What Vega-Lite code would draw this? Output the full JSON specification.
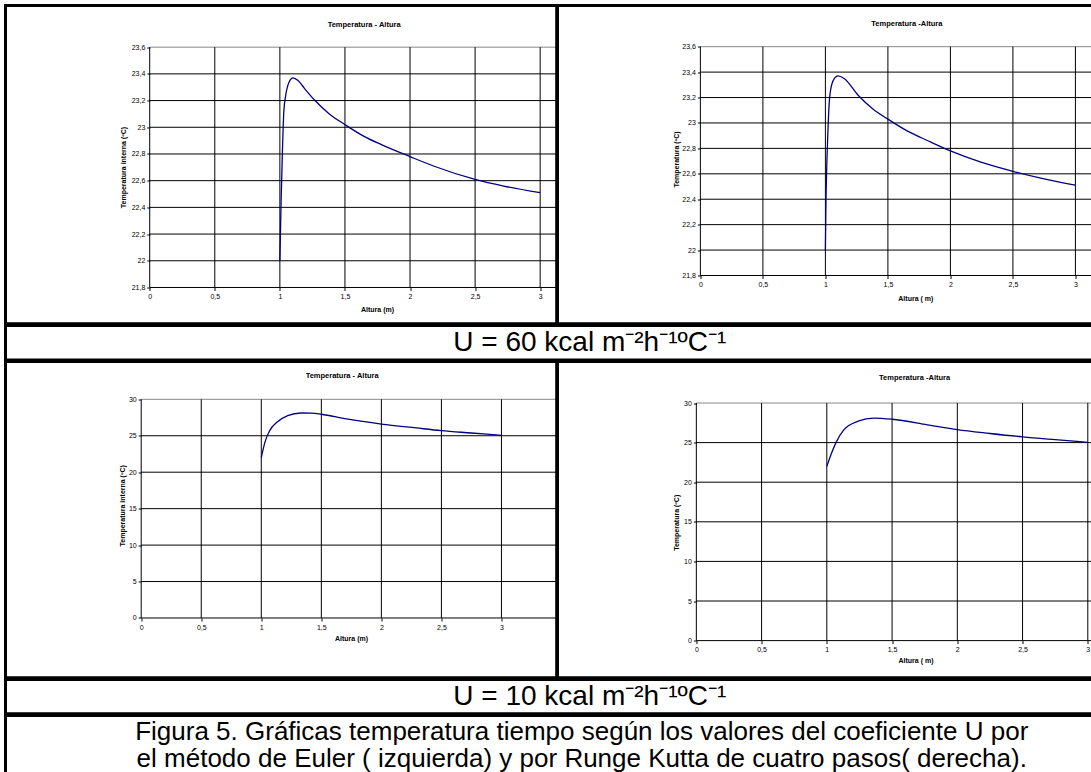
{
  "$schema": "https://vega.github.io/schema/vega-lite/v6.json",
  "padding": {"left": 3.5, "top": 3.5, "right": 0, "bottom": 0},
  "spacing": -6,
  "config": {
    "font": "Liberation Sans",
    "view": {"stroke": null},
    "title": {"font": "Liberation Sans", "fontSize": 7.5, "fontWeight": "bold", "color": "#000", "anchor": "middle", "frame": "group"},
    "axis": {"labelFont": "Liberation Sans", "titleFont": "Liberation Sans", "labelFontSize": 7, "titleFontSize": 7, "titleFontWeight": "bold", "labelColor": "#000", "titleColor": "#000", "grid": false, "domain": false, "ticks": true, "tickSize": 3, "tickColor": "#000", "labelPadding": 2, "labelFlush": false, "labelOverlap": false, "tickCount": 50}
  },
  "vconcat": [
    {
      "hconcat": [
        {
          "width": 551.2, "height": 318.3,
          "title": {"text": "Temperatura - Altura", "offset": -24.5, "dx": 83},
          "layer": [
            {"data": {"values": [{"v": 21.8}, {"v": 22.0}, {"v": 22.2}, {"v": 22.4}, {"v": 22.6}, {"v": 22.8}, {"v": 23.0}, {"v": 23.2}, {"v": 23.4}]},
             "mark": {"type": "rule", "color": "#000", "strokeWidth": 1, "clip": true},
             "encoding": {"y": {"field": "v", "type": "quantitative", "scale": {"domain": [21.528, 23.912], "nice": false, "zero": false}},
                          "x": {"datum": 0, "type": "quantitative", "scale": {"domain": [-1.108, 3.127], "nice": false, "zero": false}},
                          "x2": {"datum": 3.5}}},
            {"data": {"values": [{"v": 23.6}]},
             "mark": {"type": "rule", "color": "#888", "strokeWidth": 1, "clip": true},
             "encoding": {"y": {"field": "v", "type": "quantitative", "scale": {"domain": [21.528, 23.912], "nice": false, "zero": false}},
                          "x": {"datum": 0, "type": "quantitative", "scale": {"domain": [-1.108, 3.127], "nice": false, "zero": false}},
                          "x2": {"datum": 3.5}}},
            {"data": {"values": [{"v": 0}, {"v": 0.5}, {"v": 1}, {"v": 1.5}, {"v": 2}, {"v": 2.5}, {"v": 3}, {"v": 3.5}]},
             "mark": {"type": "rule", "color": "#000", "strokeWidth": 1, "clip": true},
             "encoding": {"x": {"field": "v", "type": "quantitative", "scale": {"domain": [-1.108, 3.127], "nice": false, "zero": false}},
                          "y": {"datum": 21.8, "type": "quantitative", "scale": {"domain": [21.528, 23.912], "nice": false, "zero": false}},
                          "y2": {"datum": 23.6}}},
            {"data": {"values": [
              {"h": 1.0, "t": 22.0}, {"h": 1.01, "t": 22.46}, {"h": 1.02, "t": 22.83}, {"h": 1.03, "t": 23.11}, {"h": 1.045, "t": 23.24},
              {"h": 1.06, "t": 23.31}, {"h": 1.08, "t": 23.355}, {"h": 1.1, "t": 23.37}, {"h": 1.14, "t": 23.35}, {"h": 1.19, "t": 23.29},
              {"h": 1.27, "t": 23.2}, {"h": 1.38, "t": 23.1}, {"h": 1.5, "t": 23.02}, {"h": 1.65, "t": 22.93}, {"h": 1.78, "t": 22.87},
              {"h": 2.0, "t": 22.78}, {"h": 2.18, "t": 22.71}, {"h": 2.5, "t": 22.61}, {"h": 2.72, "t": 22.56}, {"h": 3.0, "t": 22.51}]},
             "mark": {"type": "line", "color": "#000080", "strokeWidth": 1.3, "interpolate": "monotone", "clip": true},
             "encoding": {
               "x": {"field": "h", "type": "quantitative", "scale": {"domain": [-1.108, 3.127], "nice": false, "zero": false},
                     "axis": {"orient": "bottom", "offset": -36.3, "values": [0, 0.5, 1, 1.5, 2, 2.5, 3], "tickCount": 50, "labelOverlap": false, "labelExpr": "replace(format(datum.value, '~g'), '.', ',')", "title": "Altura (m)", "titleX": 371.5, "titleY": 17.5}},
               "y": {"field": "t", "type": "quantitative", "scale": {"domain": [21.528, 23.912], "nice": false, "zero": false},
                     "axis": {"orient": "left", "offset": -144.3, "values": [21.8, 22.0, 22.2, 22.4, 22.6, 22.8, 23.0, 23.2, 23.4, 23.6], "tickCount": 50, "labelOverlap": false, "labelExpr": "replace(format(datum.value, '~g'), '.', ',')", "title": "Temperatura interna (ºC)", "titleX": -23, "titleY": 161.5}}}},
            {"data": {"values": [{}]}, "mark": {"type": "rect", "filled": false, "color": "#000", "strokeWidth": 3}, "encoding": {}}
          ]
        },
        {
          "width": 625.3, "height": 318.3,
          "title": {"text": "Temperatura -Altura", "offset": -23, "dx": 36.7},
          "layer": [
            {"data": {"values": [{"v": 21.8}, {"v": 22.0}, {"v": 22.2}, {"v": 22.4}, {"v": 22.6}, {"v": 22.8}, {"v": 23.0}, {"v": 23.2}, {"v": 23.4}]},
             "mark": {"type": "rule", "color": "#000", "strokeWidth": 1, "clip": true},
             "encoding": {"y": {"field": "v", "type": "quantitative", "scale": {"domain": [21.42, 23.924], "nice": false, "zero": false}},
                          "x": {"datum": 0, "type": "quantitative", "scale": {"domain": [-1.143, 3.859], "nice": false, "zero": false}},
                          "x2": {"datum": 3.5}}},
            {"data": {"values": [{"v": 23.6}]},
             "mark": {"type": "rule", "color": "#888", "strokeWidth": 1, "clip": true},
             "encoding": {"y": {"field": "v", "type": "quantitative", "scale": {"domain": [21.42, 23.924], "nice": false, "zero": false}},
                          "x": {"datum": 0, "type": "quantitative", "scale": {"domain": [-1.143, 3.859], "nice": false, "zero": false}},
                          "x2": {"datum": 3.5}}},
            {"data": {"values": [{"v": 0}, {"v": 0.5}, {"v": 1}, {"v": 1.5}, {"v": 2}, {"v": 2.5}, {"v": 3}, {"v": 3.5}]},
             "mark": {"type": "rule", "color": "#000", "strokeWidth": 1, "clip": true},
             "encoding": {"x": {"field": "v", "type": "quantitative", "scale": {"domain": [-1.143, 3.859], "nice": false, "zero": false}},
                          "y": {"datum": 21.8, "type": "quantitative", "scale": {"domain": [21.42, 23.924], "nice": false, "zero": false}},
                          "y2": {"datum": 23.6}}},
            {"data": {"values": [
              {"h": 1.0, "t": 22.0}, {"h": 1.005, "t": 22.4}, {"h": 1.012, "t": 22.7}, {"h": 1.02, "t": 22.93}, {"h": 1.03, "t": 23.15},
              {"h": 1.05, "t": 23.3}, {"h": 1.075, "t": 23.355}, {"h": 1.1, "t": 23.37}, {"h": 1.15, "t": 23.35}, {"h": 1.26, "t": 23.22},
              {"h": 1.38, "t": 23.11}, {"h": 1.5, "t": 23.03}, {"h": 1.65, "t": 22.94}, {"h": 1.82, "t": 22.86}, {"h": 2.0, "t": 22.78},
              {"h": 2.25, "t": 22.69}, {"h": 2.5, "t": 22.62}, {"h": 2.75, "t": 22.56}, {"h": 3.0, "t": 22.51}]},
             "mark": {"type": "line", "color": "#000080", "strokeWidth": 1.3, "interpolate": "monotone", "clip": true},
             "encoding": {
               "x": {"field": "h", "type": "quantitative", "scale": {"domain": [-1.143, 3.859], "nice": false, "zero": false},
                     "axis": {"orient": "bottom", "offset": -48.3, "values": [0, 0.5, 1, 1.5, 2, 2.5, 3], "tickCount": 50, "labelOverlap": false, "labelExpr": "replace(format(datum.value, '~g'), '.', ',')", "title": "Altura ( m)", "titleX": 357.8, "titleY": 19}},
               "y": {"field": "t", "type": "quantitative", "scale": {"domain": [21.42, 23.924], "nice": false, "zero": false},
                     "axis": {"orient": "left", "offset": -142.9, "values": [21.8, 22.0, 22.2, 22.4, 22.6, 22.8, 23.0, 23.2, 23.4, 23.6], "tickCount": 50, "labelOverlap": false, "labelExpr": "replace(format(datum.value, '~g'), '.', ',')", "title": "Temperatura (ºC)", "titleX": -21, "titleY": 153.5}}}},
            {"data": {"values": [{}]}, "mark": {"type": "rect", "filled": false, "color": "#000", "strokeWidth": 3}, "encoding": {}}
          ]
        }
      ],
      "spacing": 0, "bounds": "flush"
    },
    {
      "width": 1176.5, "height": 34.4,
      "data": {"values": [{"t": "U = 60 kcal m⁻²h⁻¹ºC⁻¹"}]},
      "layer": [
        {"mark": {"type": "text", "font": "Liberation Sans", "fontSize": 28, "baseline": "middle", "align": "center", "color": "#000", "dx": -4},
         "encoding": {"text": {"field": "t"}}},
        {"mark": {"type": "rect", "filled": false, "color": "#000", "strokeWidth": 3}, "encoding": {}}
      ]
    },
    {
      "hconcat": [
        {
          "width": 551.2, "height": 316.3,
          "title": {"text": "Temperatura - Altura", "offset": -19.8, "dx": 61},
          "layer": [
            {"data": {"values": [{"v": 0}, {"v": 5}, {"v": 10}, {"v": 15}, {"v": 20}, {"v": 25}]},
             "mark": {"type": "rule", "color": "#000", "strokeWidth": 1, "clip": true},
             "encoding": {"y": {"field": "v", "type": "quantitative", "scale": {"domain": [-8.203, 35.185], "nice": false, "zero": false}},
                          "x": {"datum": 0, "type": "quantitative", "scale": {"domain": [-1.13, 3.46], "nice": false, "zero": false}},
                          "x2": {"datum": 3.5}}},
            {"data": {"values": [{"v": 30}]},
             "mark": {"type": "rule", "color": "#888", "strokeWidth": 1, "clip": true},
             "encoding": {"y": {"field": "v", "type": "quantitative", "scale": {"domain": [-8.203, 35.185], "nice": false, "zero": false}},
                          "x": {"datum": 0, "type": "quantitative", "scale": {"domain": [-1.13, 3.46], "nice": false, "zero": false}},
                          "x2": {"datum": 3.5}}},
            {"data": {"values": [{"v": 0}, {"v": 0.5}, {"v": 1}, {"v": 1.5}, {"v": 2}, {"v": 2.5}, {"v": 3}, {"v": 3.5}]},
             "mark": {"type": "rule", "color": "#000", "strokeWidth": 1, "clip": true},
             "encoding": {"x": {"field": "v", "type": "quantitative", "scale": {"domain": [-1.13, 3.46], "nice": false, "zero": false}},
                          "y": {"datum": 0, "type": "quantitative", "scale": {"domain": [-8.203, 35.185], "nice": false, "zero": false}},
                          "y2": {"datum": 30}}},
            {"data": {"values": [
              {"h": 1.0, "t": 22.0}, {"h": 1.03, "t": 24.1}, {"h": 1.07, "t": 25.7}, {"h": 1.13, "t": 26.85}, {"h": 1.22, "t": 27.76},
              {"h": 1.33, "t": 28.12}, {"h": 1.42, "t": 28.1}, {"h": 1.5, "t": 27.95}, {"h": 1.71, "t": 27.3}, {"h": 2.0, "t": 26.6},
              {"h": 2.29, "t": 26.07}, {"h": 2.5, "t": 25.7}, {"h": 2.75, "t": 25.38}, {"h": 3.0, "t": 25.06}]},
             "mark": {"type": "line", "color": "#000080", "strokeWidth": 1.3, "interpolate": "monotone", "clip": true},
             "encoding": {
               "x": {"field": "h", "type": "quantitative", "scale": {"domain": [-1.13, 3.46], "nice": false, "zero": false},
                     "axis": {"orient": "bottom", "offset": -59.8, "values": [0, 0.5, 1, 1.5, 2, 2.5, 3], "tickCount": 50, "labelOverlap": false, "labelExpr": "replace(format(datum.value, '~g'), '.', ',')", "title": "Altura (m)", "titleX": 345.5, "titleY": 16}},
               "y": {"field": "t", "type": "quantitative", "scale": {"domain": [-8.203, 35.185], "nice": false, "zero": false},
                     "axis": {"orient": "left", "offset": -135.7, "values": [0, 5, 10, 15, 20, 25, 30], "tickCount": 50, "labelOverlap": false, "labelExpr": "replace(format(datum.value, '~g'), '.', ',')", "title": "Temperatura interna (ºC)", "titleX": -16, "titleY": 143.8}}}},
            {"data": {"values": [{}]}, "mark": {"type": "rect", "filled": false, "color": "#000", "strokeWidth": 3}, "encoding": {}}
          ]
        },
        {
          "width": 625.3, "height": 316.3,
          "title": {"text": "Temperatura -Altura", "offset": -21.5, "dx": 44.5},
          "layer": [
            {"data": {"values": [{"v": 0}, {"v": 5}, {"v": 10}, {"v": 15}, {"v": 20}, {"v": 25}]},
             "mark": {"type": "rule", "color": "#000", "strokeWidth": 1, "clip": true},
             "encoding": {"y": {"field": "v", "type": "quantitative", "scale": {"domain": [-4.697, 35.24], "nice": false, "zero": false}},
                          "x": {"datum": 0, "type": "quantitative", "scale": {"domain": [-1.064, 3.728], "nice": false, "zero": false}},
                          "x2": {"datum": 3.5}}},
            {"data": {"values": [{"v": 30}]},
             "mark": {"type": "rule", "color": "#888", "strokeWidth": 1, "clip": true},
             "encoding": {"y": {"field": "v", "type": "quantitative", "scale": {"domain": [-4.697, 35.24], "nice": false, "zero": false}},
                          "x": {"datum": 0, "type": "quantitative", "scale": {"domain": [-1.064, 3.728], "nice": false, "zero": false}},
                          "x2": {"datum": 3.5}}},
            {"data": {"values": [{"v": 0}, {"v": 0.5}, {"v": 1}, {"v": 1.5}, {"v": 2}, {"v": 2.5}, {"v": 3}, {"v": 3.5}]},
             "mark": {"type": "rule", "color": "#000", "strokeWidth": 1, "clip": true},
             "encoding": {"x": {"field": "v", "type": "quantitative", "scale": {"domain": [-1.064, 3.728], "nice": false, "zero": false}},
                          "y": {"datum": 0, "type": "quantitative", "scale": {"domain": [-4.697, 35.24], "nice": false, "zero": false}},
                          "y2": {"datum": 30}}},
            {"data": {"values": [
              {"h": 1.0, "t": 22.0}, {"h": 1.03, "t": 23.4}, {"h": 1.07, "t": 25.0}, {"h": 1.13, "t": 26.6}, {"h": 1.24, "t": 27.7},
              {"h": 1.36, "t": 28.1}, {"h": 1.5, "t": 27.95}, {"h": 1.77, "t": 27.25}, {"h": 2.0, "t": 26.63}, {"h": 2.25, "t": 26.15},
              {"h": 2.5, "t": 25.72}, {"h": 2.75, "t": 25.37}, {"h": 3.0, "t": 25.04}]},
             "mark": {"type": "line", "color": "#000080", "strokeWidth": 1.3, "interpolate": "monotone", "clip": true},
             "encoding": {
               "x": {"field": "h", "type": "quantitative", "scale": {"domain": [-1.064, 3.728], "nice": false, "zero": false},
                     "axis": {"orient": "bottom", "offset": -37.2, "values": [0, 0.5, 1, 1.5, 2, 2.5, 3], "tickCount": 50, "labelOverlap": false, "labelExpr": "replace(format(datum.value, '~g'), '.', ',')", "title": "Altura ( m)", "titleX": 358, "titleY": 16}},
               "y": {"field": "t", "type": "quantitative", "scale": {"domain": [-4.697, 35.24], "nice": false, "zero": false},
                     "axis": {"orient": "left", "offset": -138.9, "values": [0, 5, 10, 15, 20, 25, 30], "tickCount": 50, "labelOverlap": false, "labelExpr": "replace(format(datum.value, '~g'), '.', ',')", "title": "Temperatura (ºC)", "titleX": -17, "titleY": 160.8}}}},
            {"data": {"values": [{}]}, "mark": {"type": "rect", "filled": false, "color": "#000", "strokeWidth": 3}, "encoding": {}}
          ]
        }
      ],
      "spacing": 0, "bounds": "flush"
    },
    {
      "width": 1176.5, "height": 34.3,
      "data": {"values": [{"t": "U = 10 kcal m⁻²h⁻¹ºC⁻¹"}]},
      "layer": [
        {"mark": {"type": "text", "font": "Liberation Sans", "fontSize": 28, "baseline": "middle", "align": "center", "color": "#000", "dx": -4},
         "encoding": {"text": {"field": "t"}}},
        {"mark": {"type": "rect", "filled": false, "color": "#000", "strokeWidth": 3}, "encoding": {}}
      ]
    },
    {
      "width": 1176.5, "height": 70,
      "data": {"values": [{"t": "Figura 5. Gráficas temperatura tiempo según los valores del coeficiente U por\nel método de Euler ( izquierda) y por Runge Kutta de cuatro pasos( derecha)."}]},
      "layer": [
        {"mark": {"type": "text", "font": "Liberation Sans", "fontSize": 26, "lineBreak": "\n", "lineHeight": 27, "baseline": "middle", "align": "center", "color": "#000", "dx": -12, "dy": -19},
         "encoding": {"text": {"field": "t"}}},
        {"mark": {"type": "rect", "filled": false, "color": "#000", "strokeWidth": 3}, "encoding": {}}
      ]
    }
  ]
}
